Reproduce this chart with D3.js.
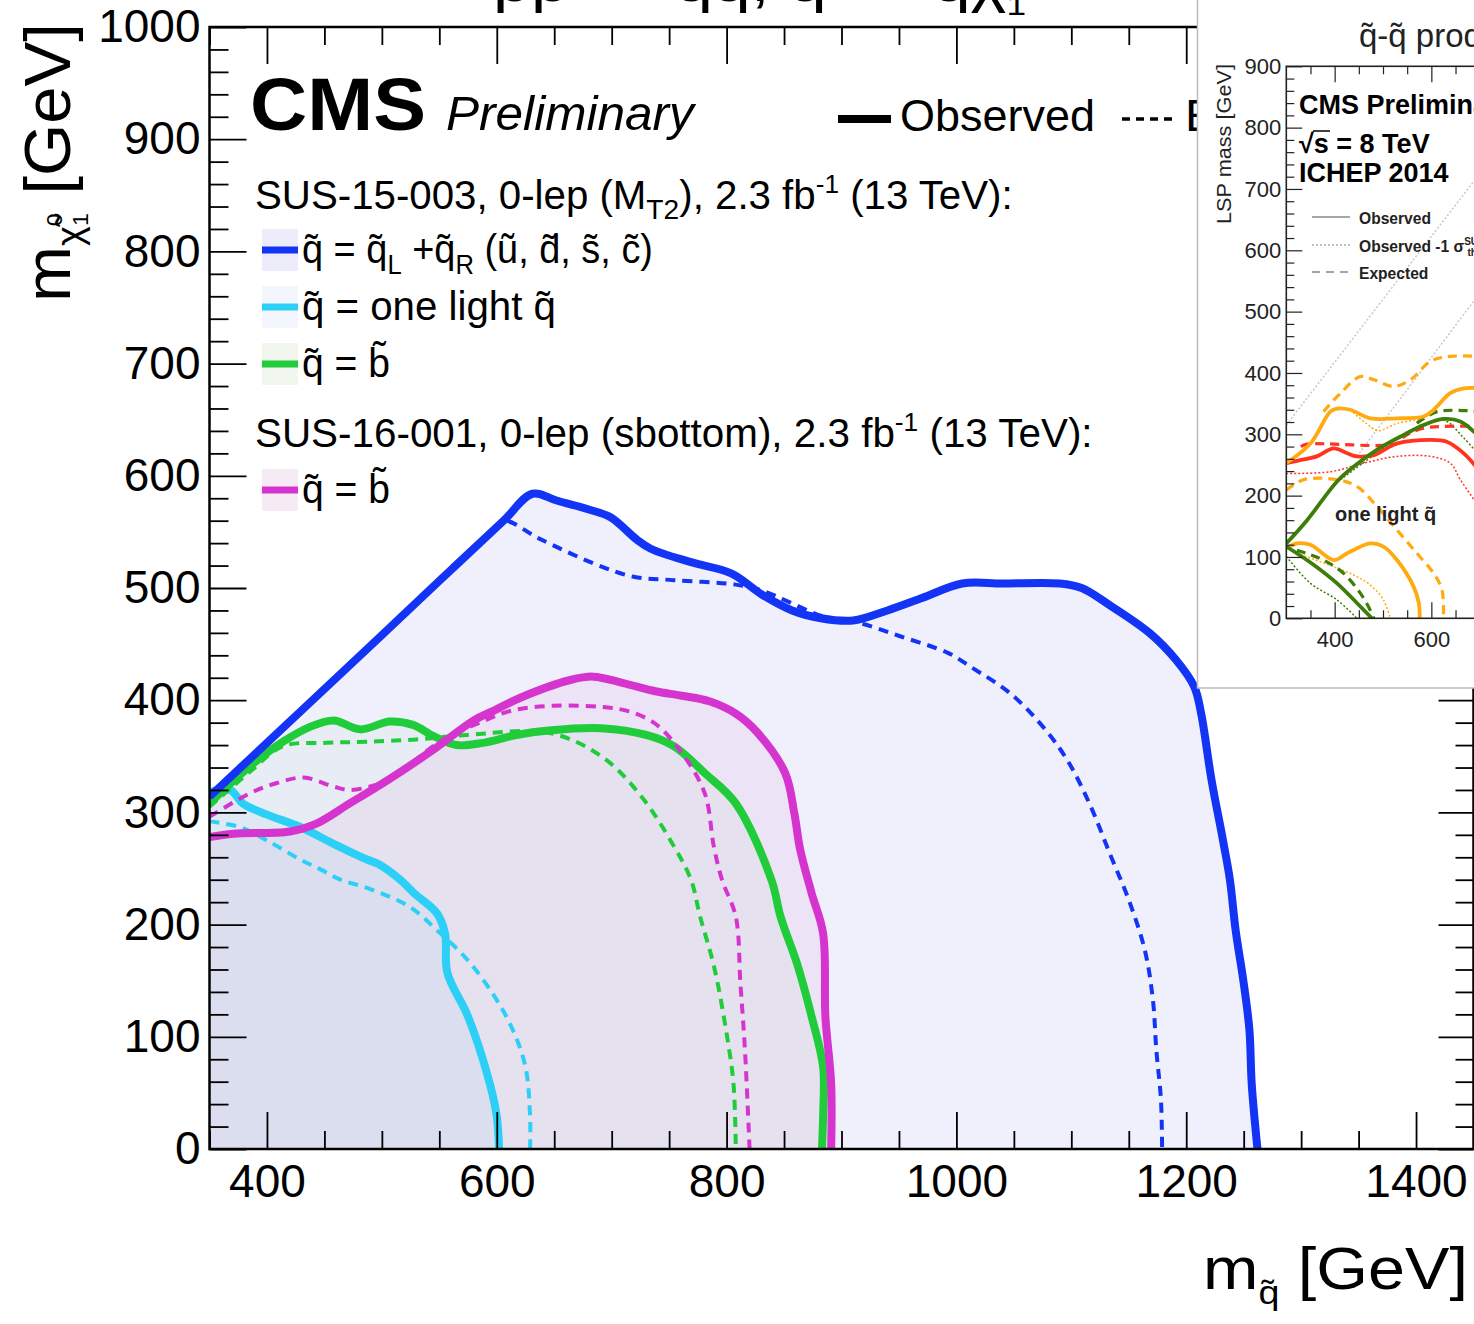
<!DOCTYPE html>
<html>
<head>
<meta charset="utf-8">
<script src="https://cdn.jsdelivr.net/npm/d3@7"></script>
<style>
  body { margin: 0; background: #fff; }
  svg { display: block; font-family: "Liberation Sans", Arial, Helvetica, sans-serif; }
</style>
</head>
<body>
<div id="chart"></div>
<script>
// contour points [m_squark, m_LSP] in GeV
const blueObs = [[350,314],[500,458],[560,516],[606,560],[631,584],[652,578],[680,570],[699,563],[722,543],[734,535],[769,523],[804,513],[831,494],[857,480],[882,473],[910,471],[940,480],[970,491],[1005,504],[1040,504],[1090,504],[1109,500],[1133,485],[1168,460],[1191,436],[1207,412],[1213,388],[1222,329],[1232,275],[1238,240],[1243,195],[1250,148],[1255,106],[1257,58],[1262,0]];
const blueExp = [[350,314],[500,458],[560,516],[595,550],[606,560],[637,544],[684,522],[719,510],[754,507],[808,503],[830,498],[886,474],[915,469],[951,457],[993,442],[1012,430],[1047,406],[1078,373],[1098,344],[1117,305],[1134,262],[1150,222],[1164,177],[1171,133],[1174,88],[1178,44],[1179,0]];
const cyanObs = [[350,318],[368,320],[379,308],[400,298],[429,287],[458,272],[487,258],[497,254],[516,240],[528,228],[548,210],[555,192],[557,157],[575,118],[594,58],[600,29],[602,0]];
const cyanExp = [[350,292],[376,287],[400,275],[429,258],[447,249],[464,240],[489,232],[524,216],[548,195],[575,168],[598,136],[614,106],[625,73],[629,29],[629,0]];
const greenObs = [[350,308],[385,341],[414,363],[437,376],[458,382],[481,374],[507,381],[527,378],[545,368],[565,360],[588,362],[617,369],[645,373],[691,375],[730,369],[754,359],[781,335],[808,308],[839,240],[847,207],[862,163],[874,118],[884,73],[884,29],[883,0]];
const greenExp = [[350,305],[385,336],[414,359],[452,362],[487,363],[530,365],[574,369],[645,371],[691,350],[726,314],[754,270],[769,240],[777,207],[789,163],[800,103],[806,58],[808,0]];
const magentaObs = [[350,278],[371,281],[420,283],[443,290],[472,308],[501,326],[545,356],[580,382],[598,391],[620,402],[664,418],[684,421],[711,415],[738,408],[761,404],[785,399],[808,388],[827,371],[851,335],[859,299],[864,267],[874,228],[884,192],[886,118],[891,58],[891,0]];
const magentaExp = [[350,296],[385,317],[408,326],[432,331],[458,323],[472,320],[493,324],[510,332],[552,364],[583,379],[614,391],[649,395],[691,394],[715,390],[738,379],[761,353],[781,317],[789,269],[796,240],[808,207],[812,148],[816,88],[820,0]];

// inset (8 TeV) contours
const inOrangeObsUp = [[300,253],[350,285],[391,337],[405,342],[432,340],[474,326],[529,326],[584,329],[605,340],[639,367],[667,375],[700,375]];
const inOrangeExpUp = [[377,337],[412,367],[453,394],[481,389],[522,378],[557,389],[598,419],[639,427],[700,427]];
const inOrangeDotUp = [[432,340],[465,318],[490,306],[530,318],[580,324]];
const inOrangeObsLow = [[300,114],[322,122],[350,120],[398,95],[426,106],[474,122],[501,117],[529,95],[563,52],[574,25],[576,0]];
const inOrangeExpLow = [[300,209],[336,226],[405,226],[446,215],[488,182],[529,144],[570,106],[605,73],[622,46],[625,0]];
const inOrangeDotLow = [[322,106],[398,84],[446,68],[474,54],[501,30],[515,0]];
const inRedObs = [[300,253],[329,258],[363,264],[398,277],[426,269],[446,264],[481,266],[529,285],[598,291],[632,288],[667,269],[700,240]];
const inRedExp = [[330,280],[343,284],[530,285],[543,296],[584,310],[700,313]];
const inRedDot = [[300,236],[391,239],[460,253],[529,264],[598,264],[639,253],[660,226],[700,180]];
const inGreenObsUp = [[300,122],[343,160],[405,223],[439,247],[488,275],[543,299],[584,315],[625,325],[660,321],[700,295]];
const inGreenExpUp = [[570,318],[612,337],[700,337]];
const inGreenDotUp = [[412,226],[481,266],[557,307],[625,323],[667,294],[700,265]];
const inGreenObsLow = [[300,117],[357,87],[405,57],[446,25],[477,0]];
const inGreenExpLow = [[322,111],[377,95],[419,73],[453,41],[470,19],[481,0]];
const inGreenDotLow = [[300,101],[350,57],[405,30],[446,0]];
const inDiag1 = [[300,315],[700,725]];
const inDiag2 = [[446,264],[700,530]];

const xTicks = [400, 600, 800, 1000, 1200, 1400];
const yTicks = [0, 100, 200, 300, 400, 500, 600, 700, 800, 900, 1000];
const inXTicks = [400, 600];
const inYTicks = [0, 100, 200, 300, 400, 500, 600, 700, 800, 900];

const legendRows = [
    { html: 'q\u0303 = q\u0303<tspan dy="11" font-size="27">L</tspan><tspan dy="-11"> +q\u0303</tspan><tspan dy="11" font-size="27">R</tspan><tspan dy="-11"> (u\u0303, d\u0303, s\u0303, c\u0303)</tspan>', w: 351, color: '#1434f5', fill: '#ececfb', cy: 250 },
    { html: 'q\u0303 = one light q\u0303', w: 254, color: '#2ccff5', fill: '#f3f7fd', cy: 307 },
    { html: 'q\u0303 = b\u0303', w: 88, color: '#20cc3a', fill: '#f1f6ef', cy: 364 },
    { html: 'q\u0303 = b\u0303', w: 88, color: '#d534cf', fill: '#f6eaf5', cy: 490 }
];

const width = 1474, height = 1324;
const svg = d3.select('#chart').append('svg')
    .attr('width', width)
    .attr('height', height);

svg.append('rect').attr('width', width).attr('height', height).attr('fill', 'white');

const x = d3.scaleLinear().domain([350, 1450]).range([209.5, 1473.5]);
const y = d3.scaleLinear().domain([0, 1000]).range([1149, 27]);

svg.append('clipPath').attr('id', 'plotclip')
  .append('rect')
    .attr('x', x(350)).attr('y', y(1000))
    .attr('width', x(1450) - x(350)).attr('height', y(0) - y(1000));
svg.append('clipPath').attr('id', 'leftofinset')
  .append('rect').attr('x', 0).attr('y', 0).attr('width', 1197).attr('height', height);

// scale a text element so it spans a given width
function fitText(sel, x0, y0, w, rot) {
    const bw = sel.node().getBBox().width;
    sel.attr('transform', `translate(${x0},${y0})` + (rot ? ' rotate(-90)' : '') + ` scale(${w / bw},1)`);
}

const line = d3.line()
    .x(d => x(d[0]))
    .y(d => y(d[1]))
    .curve(d3.curveCatmullRom.alpha(0.5));

const plot = svg.append('g').attr('clip-path', 'url(#plotclip)');

// filled excluded regions, closed down to the m_LSP = 0 axis
const fills = [
    [blueObs, 'rgba(60,60,235,0.08)'],
    [magentaObs, 'rgba(190,40,170,0.065)'],
    [cyanObs, 'rgba(0,170,230,0.045)'],
    [greenObs, 'rgba(40,190,60,0.04)']
];
fills.forEach(([pts, col]) => {
    const last = pts[pts.length - 1];
    const poly = pts.concat([[last[0], -20], [350 - 20, -20], [350 - 20, pts[0][1]]]);
    plot.append('path')
        .attr('d', d3.line().x(d => x(d[0])).y(d => y(d[1]))(poly) + 'Z')
        .attr('fill', col)
        .attr('stroke', 'none');
});

const curves = [
    [cyanExp, '#2ccff5', true], [cyanObs, '#2ccff5', false],
    [greenExp, '#20cc3a', true], [greenObs, '#20cc3a', false],
    [magentaExp, '#d534cf', true], [magentaObs, '#d534cf', false],
    [blueExp, '#1434f5', true], [blueObs, '#1434f5', false]
];
curves.forEach(([pts, col, dashed]) => {
    plot.append('path')
        .attr('d', line(pts))
        .attr('fill', 'none')
        .attr('stroke', col)
        .attr('stroke-width', dashed ? 4 : 8)
        .attr('stroke-dasharray', dashed ? '10,7' : null)
        .attr('stroke-linejoin', 'round');
});

// frame and ticks
const xMinor = d3.range(350, 1451, 50).filter(v => !xTicks.includes(v));
const yMinor = d3.range(0, 1001, 20).filter(v => v % 100);

function styleAxis(g) {
    g.select('.domain').remove();
    g.selectAll('.tick line').attr('stroke', 'black').attr('stroke-width', 1.8);
    g.selectAll('text').attr('fill', 'black').attr('font-family', '"Liberation Sans", Arial, sans-serif');
}

svg.append('g').attr('transform', `translate(0,${y(0)})`)
    .call(d3.axisBottom(x).tickValues(xTicks).tickSize(-37).tickPadding(15).tickFormat(d3.format('d')))
    .call(styleAxis).attr('font-size', 46);
svg.append('g').attr('transform', `translate(0,${y(0)})`)
    .call(d3.axisBottom(x).tickValues(xMinor).tickSize(-18).tickFormat(''))
    .call(styleAxis);
svg.append('g').attr('transform', `translate(0,${y(1000)})`)
    .call(d3.axisTop(x).tickValues(xTicks).tickSize(-37).tickFormat(''))
    .call(styleAxis);
svg.append('g').attr('transform', `translate(0,${y(1000)})`)
    .call(d3.axisTop(x).tickValues(xMinor).tickSize(-18).tickFormat(''))
    .call(styleAxis);
svg.append('g').attr('transform', `translate(${x(350)},0)`)
    .call(d3.axisLeft(y).tickValues(yTicks).tickSize(-37).tickPadding(9).tickFormat(d3.format('d')))
    .call(styleAxis).attr('font-size', 46);
svg.append('g').attr('transform', `translate(${x(350)},0)`)
    .call(d3.axisLeft(y).tickValues(yMinor).tickSize(-19).tickFormat(''))
    .call(styleAxis);
svg.append('g').attr('transform', `translate(${x(1450)},0)`)
    .call(d3.axisRight(y).tickValues(yTicks).tickSize(-35).tickFormat(''))
    .call(styleAxis);
svg.append('g').attr('transform', `translate(${x(1450)},0)`)
    .call(d3.axisRight(y).tickValues(yMinor).tickSize(-18).tickFormat(''))
    .call(styleAxis);

svg.append('rect')
    .attr('x', x(350)).attr('y', y(1000))
    .attr('width', x(1450) - x(350)).attr('height', y(0) - y(1000))
    .attr('fill', 'none').attr('stroke', 'black').attr('stroke-width', 2.5);

// title, mostly above the visible area
const title = svg.append('text').attr('font-size', 58)
    .html('pp \u2192 q\u0303q\u0303, q\u0303 \u2192 q\u03c7\u0303<tspan font-size="30" dy="14">1</tspan>');
fitText(title, 493, 1, 537);

// axis titles
const ytitle = svg.append('text').attr('font-size', 64)
    .html('m<tspan font-size="36" dy="12">\u03c7\u0303</tspan><tspan font-size="22" dy="-20">0</tspan><tspan font-size="22" dx="-12" dy="26">1</tspan><tspan dy="-18"> [GeV]</tspan>');
fitText(ytitle, 70, 302, 279, true);

const xtitle = svg.append('text').attr('font-size', 60)
    .html('m<tspan font-size="34" dy="15">q\u0303</tspan><tspan dy="-15"> [GeV]</tspan>');
fitText(xtitle, 1203, 1289, 265);

// CMS label and legend
fitText(svg.append('text').attr('font-size', 74).attr('font-weight', 'bold').text('CMS'), 250, 130, 176);
fitText(svg.append('text').attr('font-size', 48).attr('font-style', 'italic').text('Preliminary'), 446, 130, 251);

svg.append('line').attr('x1', 838).attr('x2', 891).attr('y1', 119).attr('y2', 119)
    .attr('stroke', 'black').attr('stroke-width', 8);
fitText(svg.append('text').attr('font-size', 44).text('Observed'), 900, 131, 195);
svg.append('line').attr('x1', 1122).attr('x2', 1178).attr('y1', 119).attr('y2', 119)
    .attr('stroke', 'black').attr('stroke-width', 3.5).attr('stroke-dasharray', '8,6');
const expLabel = svg.append('g').attr('clip-path', 'url(#leftofinset)')
    .append('text').attr('font-size', 44).text('Expected');
fitText(expLabel, 1185, 131, 200);

const sus15 = svg.append('text').attr('font-size', 40)
    .html('SUS-15-003, 0-lep (M<tspan font-size="28" dy="10">T2</tspan><tspan dy="-10">), 2.3 fb</tspan><tspan font-size="26" dy="-16">-1</tspan><tspan dy="16"> (13 TeV):</tspan>');
fitText(sus15, 255, 209, 758);
const sus16 = svg.append('text').attr('font-size', 40)
    .html('SUS-16-001, 0-lep (sbottom), 2.3 fb<tspan font-size="26" dy="-16">-1</tspan><tspan dy="16"> (13 TeV):</tspan>');
fitText(sus16, 255, 447, 838);

legendRows.forEach(r => {
    svg.append('rect').attr('x', 262).attr('y', r.cy - 21).attr('width', 36).attr('height', 42)
        .attr('fill', r.fill);
    svg.append('line').attr('x1', 262).attr('x2', 298).attr('y1', r.cy).attr('y2', r.cy)
        .attr('stroke', r.color).attr('stroke-width', 7);
    fitText(svg.append('text').attr('font-size', 40).html(r.html), 302, r.cy + 13, r.w);
});

// inset: 8 TeV result
const ix = d3.scaleLinear().domain([300, 700]).range([1286.3, 1479.7]);
const iy = d3.scaleLinear().domain([0, 900]).range([618.3, 66.3]);

const inset = svg.append('g');
inset.append('rect')
    .attr('x', 1197.5).attr('y', -2).attr('width', 300).attr('height', 690)
    .attr('fill', 'white').attr('stroke', '#bdbdbd').attr('stroke-width', 1.5);

svg.append('clipPath').attr('id', 'insetclip')
  .append('rect').attr('x', 1198).attr('y', 0).attr('width', 280).attr('height', 687);
svg.append('clipPath').attr('id', 'insetplot')
  .append('rect').attr('x', ix(300)).attr('y', iy(900)).attr('width', 200).attr('height', iy(0) - iy(900));

const ig = inset.append('g').attr('clip-path', 'url(#insetclip)');
const ip = ig.append('g').attr('clip-path', 'url(#insetplot)');

const iline = d3.line()
    .x(d => ix(d[0]))
    .y(d => iy(d[1]))
    .curve(d3.curveCatmullRom.alpha(0.5));

const insetCurves = [
    [inDiag1, '#c8c8c8', 'dot'], [inDiag2, '#c8c8c8', 'dot'],
    [inRedDot, '#ff3320', 'dot'], [inOrangeDotUp, '#ffaa10', 'dot'], [inOrangeDotLow, '#ffaa10', 'dot'],
    [inGreenDotUp, '#3d7d08', 'dot'], [inGreenDotLow, '#3d7d08', 'dot'],
    [inRedExp, '#ff3320', 'dash'], [inOrangeExpUp, '#ffaa10', 'dash'], [inOrangeExpLow, '#ffaa10', 'dash'],
    [inGreenExpUp, '#3d7d08', 'dash'], [inGreenExpLow, '#3d7d08', 'dash'],
    [inRedObs, '#ff3320', 'solid'], [inOrangeObsUp, '#ffaa10', 'solid'], [inOrangeObsLow, '#ffaa10', 'solid'],
    [inGreenObsUp, '#3d7d08', 'solid'], [inGreenObsLow, '#3d7d08', 'solid']
];
insetCurves.forEach(([pts, col, style]) => {
    ip.append('path')
        .attr('d', iline(pts))
        .attr('fill', 'none')
        .attr('stroke', col)
        .attr('stroke-width', style === 'solid' ? 3.8 : style === 'dash' ? 3.2 : 1.5)
        .attr('stroke-dasharray', style === 'dash' ? '9,6' : style === 'dot' ? '2,2' : null);
});

const inXMinor = [350, 450, 500, 550, 650, 700];
const inYMinor = d3.range(0, 901, 20).filter(v => v % 100);

function styleInset(g) {
    g.select('.domain').remove();
    g.selectAll('.tick line').attr('stroke', '#222').attr('stroke-width', 1.2);
    g.selectAll('text').attr('fill', '#222').attr('font-family', '"Liberation Sans", Arial, sans-serif');
}
ig.append('g').attr('transform', `translate(0,${iy(0)})`)
    .call(d3.axisBottom(ix).tickValues(inXTicks).tickSize(-16).tickPadding(13).tickFormat(d3.format('d')))
    .call(styleInset).attr('font-size', 22);
ig.append('g').attr('transform', `translate(0,${iy(0)})`)
    .call(d3.axisBottom(ix).tickValues(inXMinor).tickSize(-8).tickFormat(''))
    .call(styleInset);
ig.append('g').attr('transform', `translate(0,${iy(900)})`)
    .call(d3.axisTop(ix).tickValues(inXTicks).tickSize(-16).tickFormat(''))
    .call(styleInset);
ig.append('g').attr('transform', `translate(0,${iy(900)})`)
    .call(d3.axisTop(ix).tickValues(inXMinor).tickSize(-8).tickFormat(''))
    .call(styleInset);
ig.append('g').attr('transform', `translate(${ix(300)},0)`)
    .call(d3.axisLeft(iy).tickValues(inYTicks).tickSize(-16).tickPadding(5).tickFormat(d3.format('d')))
    .call(styleInset).attr('font-size', 22);
ig.append('g').attr('transform', `translate(${ix(300)},0)`)
    .call(d3.axisLeft(iy).tickValues(inYMinor).tickSize(-8).tickFormat(''))
    .call(styleInset);

ig.append('rect')
    .attr('x', ix(300)).attr('y', iy(900)).attr('width', 250).attr('height', iy(0) - iy(900))
    .attr('fill', 'none').attr('stroke', '#222').attr('stroke-width', 1.6);

ig.append('text').attr('x', 1359).attr('y', 47).attr('font-size', 33).attr('fill', '#222')
    .text('q\u0303-q\u0303 production');
const lsp = ig.append('text').attr('font-size', 20).attr('fill', '#222').text('LSP mass [GeV]');
fitText(lsp, 1231, 224, 160, true);

ig.append('text').attr('x', 1299).attr('y', 114).attr('font-size', 27).attr('font-weight', 'bold')
    .text('CMS Preliminary');
ig.append('text').attr('x', 1299).attr('y', 153).attr('font-size', 27).attr('font-weight', 'bold')
    .text('\u221as = 8 TeV');
ig.append('line').attr('x1', 1313).attr('x2', 1330).attr('y1', 131).attr('y2', 131)
    .attr('stroke', 'black').attr('stroke-width', 1.5);
ig.append('text').attr('x', 1299).attr('y', 182).attr('font-size', 27).attr('font-weight', 'bold')
    .text('ICHEP 2014');

const inLegend = [
    { y: 217, dash: null, w: 1.5, html: 'Observed' },
    { y: 245, dash: '2,2', w: 1.2, html: 'Observed -1 \u03c3<tspan font-size="10" dy="-7">SUSY</tspan><tspan font-size="10" dx="-24" dy="11">theory</tspan>' },
    { y: 272, dash: '8,6', w: 1.5, html: 'Expected' }
];
inLegend.forEach(r => {
    ig.append('line').attr('x1', 1312).attr('x2', 1350).attr('y1', r.y).attr('y2', r.y)
        .attr('stroke', '#888').attr('stroke-width', r.w).attr('stroke-dasharray', r.dash);
    ig.append('text').attr('x', 1359).attr('y', r.y + 7).attr('font-size', 15.6).attr('font-weight', 'bold')
        .attr('fill', '#222').html(r.html);
});
ig.append('text').attr('x', 1335).attr('y', 521).attr('font-size', 20).attr('font-weight', 'bold')
    .attr('fill', '#222').text('one light q\u0303');
</script>
</body>
</html>
